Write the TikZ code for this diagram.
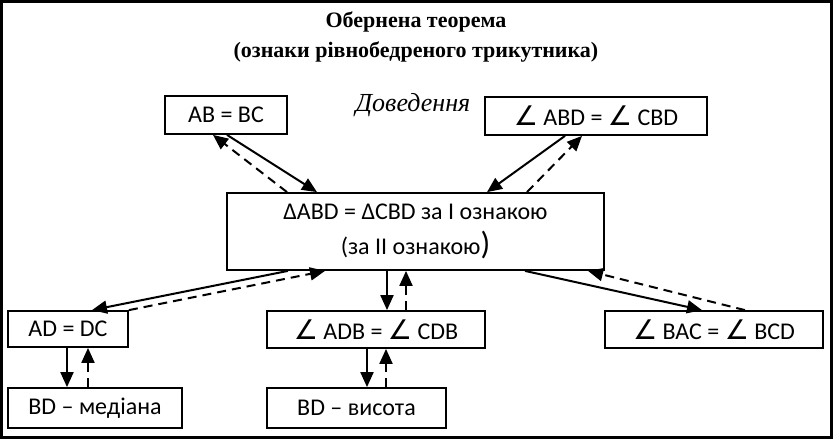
\documentclass[tikz,border=0pt]{standalone}
\usepackage{fontspec}
\setmainfont{Liberation Serif}
\newfontfamily\boxfont{Carlito}
\newfontfamily\symfont{DejaVu Sans}
\usetikzlibrary{arrows.meta}

\newcommand\angl{{\symfont\fontsize{27}{27}\selectfont ∠}}

\tikzset{
  fact/.style={draw, line width=1.8pt, inner sep=0pt, minimum height=38pt,
    font=\boxfont\fontsize{24}{28}\selectfont},
  implies/.style={-{Triangle[length=15pt,width=13pt]}, line width=2pt},
  back/.style={implies, dash pattern=on 9pt off 6pt},
}

\begin{document}
\begin{tikzpicture}[x=1pt, y=-1pt]
  \useasboundingbox (0,0) rectangle (833,439);
  \draw[line width=2.6pt] (1.3,1.3) rectangle (831.7,437.7);

  \node[font=\bfseries\fontsize{22}{30}\selectfont, align=center] (title) at (416,37)
    {Обернена теорема\\(ознаки рівнобедреного трикутника)};
  \node[font=\itshape\fontsize{26}{30}\selectfont] (proof) at (413,105) {Доведення};

  % given facts
  \node[fact, minimum width=122pt] (ab) at (226,115) {AB = BC};
  \node[fact, minimum width=222pt] (abd) at (596,116) {\angl\ ABD = \angl\ CBD};

  % congruent triangles
  \node[fact, minimum width=377pt, minimum height=77pt, align=center] (tri) at (415.5,231.5)
    {ΔABD = ΔCBD за І ознакою\\[7pt] (за ІІ ознакою{\fontsize{32}{32}\selectfont )}};

  % consequences
  \node[fact, minimum width=120pt, minimum height=36pt] (ad) at (68,329) {AD = DC};
  \node[fact, minimum width=218pt, minimum height=37pt] (adb) at (376,329.5) {\angl\ ADB = \angl\ CDB};
  \node[fact, minimum width=218pt, minimum height=37pt] (bac) at (714,329.5) {\angl\ BAC = \angl\ BCD};
  \node[fact, minimum width=174pt, minimum height=40pt] (med) at (95,408) {BD – медіана};
  \node[fact, minimum width=179pt, minimum height=40pt] (vys) at (356.5,408) {BD – висота};

  % top pair
  \draw[implies] ([xshift=1pt]ab.south) -- ([xshift=-98.5pt]tri.north);
  \draw[back] ([xshift=-128.5pt]tri.north) -- ([xshift=-13pt]ab.south);
  \draw[implies] ([xshift=-31pt]abd.south) -- ([xshift=71.5pt]tri.north);
  \draw[back] ([xshift=111.5pt]tri.north) -- ([xshift=-14pt]abd.south);

  % lower row
  \draw[implies] ([xshift=-127.5pt]tri.south) -- ([xshift=24pt]ad.north);
  \draw[back] (ad.north east) -- ([xshift=-90.5pt]tri.south);
  \draw[implies] ([xshift=-28.5pt]tri.south) -- ([xshift=-28.5pt]tri.south |- adb.north);
  \draw[back] ([xshift=30pt]adb.north) -- ([xshift=30pt]adb.north |- tri.south);
  \draw[implies] ([xshift=109.5pt]tri.south) -- ([xshift=-12pt]bac.north);
  \draw[back] ([xshift=31pt]bac.north) -- ([xshift=172.5pt]tri.south);

  % bottom row
  \draw[implies] ([xshift=-1pt]ad.south) -- ([xshift=-1pt]ad.south |- med.north);
  \draw[back] ([xshift=20pt]ad.south |- med.north) -- ([xshift=20pt]ad.south);
  \draw[implies] ([xshift=-9pt]adb.south) -- ([xshift=-9pt]adb.south |- vys.north);
  \draw[back] ([xshift=10pt]adb.south |- vys.north) -- ([xshift=10pt]adb.south);
\end{tikzpicture}
\end{document}
